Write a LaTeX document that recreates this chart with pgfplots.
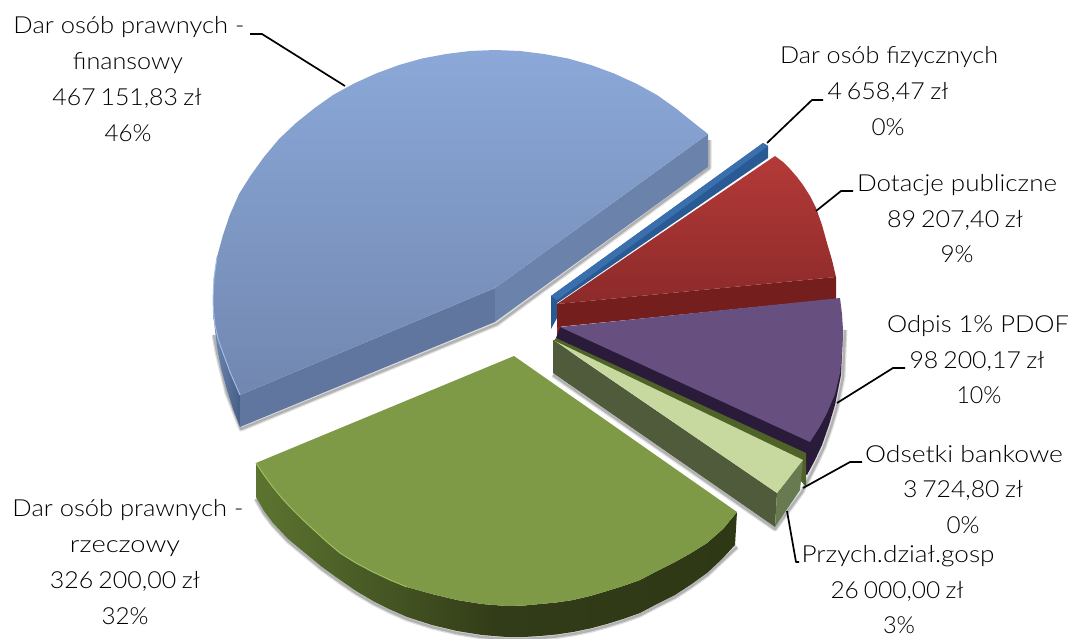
\documentclass[border=0pt]{standalone}
\usepackage{pgfplots}
\pgfplotsset{compat=1.18}
\usepackage{graphicx}
\usepackage{fontspec}
\setmainfont{Lato Light}
\definecolor{txt}{HTML}{000000}
\definecolor{bO1}{RGB}{110,135,178}
\definecolor{bO2}{RGB}{70,95,135}
\definecolor{bC1}{RGB}{96,118,158}
\definecolor{bC2}{RGB}{107,131,171}
\definecolor{bT1}{RGB}{139,168,216}
\definecolor{bT2}{RGB}{113,135,176}
\definecolor{bR}{RGB}{160,188,232}
\definecolor{dB1}{RGB}{42,90,148}
\definecolor{dB2}{RGB}{58,111,174}
\definecolor{rS}{RGB}{116,30,30}
\definecolor{rX}{RGB}{160,35,40}
\definecolor{rT1}{RGB}{180,58,56}
\definecolor{rT2}{RGB}{140,42,42}
\definecolor{pD}{RGB}{42,27,58}
\definecolor{pT}{RGB}{103,79,128}
\definecolor{oL}{RGB}{79,98,40}
\definecolor{lS}{RGB}{79,91,58}
\definecolor{lE}{RGB}{103,122,80}
\definecolor{lT}{RGB}{200,217,160}
\definecolor{gS1}{RGB}{92,116,48}
\definecolor{gS2}{RGB}{46,56,20}
\definecolor{gSm}{RGB}{50,60,24}
\definecolor{gT}{RGB}{126,154,70}
\definecolor{gR}{RGB}{158,190,96}
\newcommand{\lab}[4]{\node[anchor=base,inner sep=0pt,text=txt,font=\fontsize{23.5}{26}\selectfont] at (axis cs:#1,#2) {\resizebox{#3pt}{\height}{#4}};}
\newcommand{\ts}{\hspace{.2em}}
\newcommand{\zs}{\hspace{.22em}}
\pgfplotsset{face/.style={draw=none,no markers,line join=round},
 lead/.style={draw=black,line width=1.7pt,no markers,line join=round},
 shad/.style={draw=black,opacity=0.13,line width=5pt,no markers,line join=round},
 shae/.style={draw=black,opacity=0.2,line width=2.5pt,no markers,line join=round},
 rim/.style={no markers,line width=1pt,line join=round}}
\begin{document}
\begin{tikzpicture}
\path[use as bounding box] (0,0) rectangle (1073pt,638pt);
\begin{axis}[at={(0,0)},anchor=south west,scale only axis,width=1073pt,height=638pt,xmin=0,xmax=1073,ymin=0,ymax=638,y dir=reverse,
  axis lines=none,clip=false]
% shadows
\addplot[shad] coordinates {(214,335)(217,352)(227,393)(241,429)(497,324)(709,168)(709,140)};
\addplot[shae] coordinates {(214,335)(217,352)(227,393)(241,429)(497,324)(709,168)(709,140)};
\addplot[shad] coordinates {(256,499)(264,513)(273,525)(288,541)(305,555)(322,569)(340,582)(356,593)(373,603)(390,611.5)(407,619)(432,627)(457,633)(482,637)(507,639)(524,639)(540,638)(556,636.5)(573,634)(590,630.5)(607,626)(623,621)(640,615)(657,606)(675,597)(691,586.5)(707,575)(722,561)(737,547)};
\addplot[shae] coordinates {(256,499)(264,513)(273,525)(288,541)(305,555)(322,569)(340,582)(356,593)(373,603)(390,611.5)(407,619)(432,627)(457,633)(482,637)(507,639)(524,639)(540,638)(556,636.5)(573,634)(590,630.5)(607,626)(623,621)(640,615)(657,606)(675,597)(691,586.5)(707,575)(722,561)(737,547)};
\addplot[shad] coordinates {(553,375)(775,529)(802,492)(809,478)(817,462)(824,447)(831,427)(837,407)(843,377)(844,352)(845,330)};
\addplot[shae] coordinates {(553,375)(775,529)(802,492)(809,478)(817,462)(824,447)(831,427)(837,407)(843,377)(844,352)(845,330)};
% blue big slice
\addplot[face,left color=bO1,right color=bO2] coordinates {(213,313)(215,330)(217,347)(221,368)(227,390)(233,409)(240,427)(240,395)(230,372)(223,353)(218,339)(215,325)(213,313)};
\addplot[face,fill=bC1] coordinates {(495,288)(240,395)(240,427)(495,322)(495,288)};
\addplot[face,fill=bC2] coordinates {(495,288)(708,134)(708,167)(495,322)(495,288)};
\addplot[face,top color=bT1,bottom color=bT2] coordinates {
 (495,288)(708,134)(694,123)(676,108.5)(657,95)(636,83.5)(614,73.5)(591,65)(568,58.5)(544,54)(520,51)(495,50)(470,51)(446,54)(422,58.5)(399,65)(376,73.5)(354,83.5)(333,95)(314,108.5)(296,123)(279,139)(264,157)(251,175)(239,194)(230,214.5)(223,235)(217,257)(214,278)(213,300)(213.5,312)(215,325)(218,339)(223,353)(230,372)(240,395)(495,288)};
\addplot[rim,draw=bR] coordinates {(217,257)(214,278)(213,300)(213.5,312)(215,325)(218,339)(223,353)(230,372)(240,395)};
% small dark blue slice
\addplot[face,fill=dB1] coordinates {(551,296)(763,143)(768,146)(768,158)(557,303)(557,318)(551,329)(551,296)};
\addplot[face,fill=dB2] coordinates {(551,296)(763,143)(768,146)(557,300)(551,296)};
% red slice
\addplot[face,fill=rX] coordinates {(557,325)(561,325)(561,340)(557,340)(557,325)};
\addplot[face,fill=rS] coordinates {(557,304)(836,277)(836,299)(557,327)(557,304)};
\addplot[face,top color=rT1,bottom color=rT2] coordinates {
 (557,304)(775,156)(783,162)(790,169)(797,177)(803,185)(810,196)(816,208)(822,225)(827,243)(832,260)(836,277)(557,304)};
% purple slice
\addplot[face,fill=pD] coordinates {(560,327)(843,330)(842,352)(841,375)(835,405)(829,425)(822,445)(815,460)(807,475)(556,338)(560,327)};
\addplot[face,fill=pT] coordinates {(560,327)(840,298)(842,314)(843,330)(842,352)(840,373)(835,394)(827,413)(819,428)(810,442)(560,327)};
% thin olive slice
\addplot[face,fill=oL] coordinates {(556,338)(806,453)(806,487)(800,480)(553,342)(556,338)};
% light green slice
\addplot[face,fill=lS] coordinates {(553,340)(777,493)(775,527)(553,373)(553,340)};
\addplot[face,fill=lE] coordinates {(803,460)(777,493)(775,527)(800,490)(803,460)};
\addplot[face,fill=lT] coordinates {(555,341)(803,460)(777,493)(555,341)};
% big green slice
\addplot[face,left color=gS1,right color=gS2,middle color=gSm] coordinates {
 (256,463)(256,497)(264,511)(273,523)(288,539)(305,553)(322,567)(340,580)(356,591)(373,601)(390,609.5)(407,617)(432,625)(457,631)(482,635)(507,637)(524,637)(540,636)(556,634.5)(573,632)(590,628.5)(607,624)(623,619)(640,613)(657,604)(675,595)(691,584.5)(707,573)(722,559)(735,545)(737,512)(723,529)(707,543)(691,553)(675,562)(657,571)(640,580)(623,586)(607,591)(590,596)(573,600)(556,602.5)(540,604)(524,605.5)(507,606)(482,604)(457,600)(432,594)(407,587)(390,580)(373,572)(356,563)(340,553)(327,542)(315,531)(302,519)(290,507)(281,497)(272,486)(264,475)(256,463)};
\addplot[face,fill=gT] coordinates {
 (514,356)(737,512)(723,529)(707,543)(691,553)(675,562)(657,571)(640,580)(623,586)(607,591)(590,596)(573,600)(556,602.5)(540,604)(524,605.5)(507,606)(482,604)(457,600)(432,594)(407,587)(390,580)(373,572)(356,563)(340,553)(327,542)(315,531)(302,519)(290,507)(281,497)(272,486)(264,475)(256,463)(514,356)};
\addplot[rim,draw=gR] coordinates {(256,463)(264,475)(272,486)(281,497)(290,507)(302,519)(315,531)(327,542)(340,553)(356,563)(373,572)(390,580)(407,587)};
% leaders
\addplot[lead] coordinates {(250,34)(262,34)(345,86)};
\addplot[lead] coordinates {(767,143)(812,100)(823,100)};
\addplot[lead] coordinates {(816,211)(841,191)(853,191)};
\addplot[lead] coordinates {(837,403)(893,368)(905,368)};
\addplot[lead] coordinates {(803,488)(850,462)(862,462)};
\addplot[lead] coordinates {(787,511)(796,562)(799,562)};
% labels
\lab{129}{33.5}{231}{Dar osób prawnych -}
\lab{128}{69}{110}{finansowy}
\lab{127}{105}{149}{467\ts 151,83\zs zł}
\lab{128}{141}{47}{46\%}
\lab{889}{63}{218}{Dar osób fizycznych}
\lab{888}{99}{121}{4\ts 658,47\zs zł}
\lab{888}{135}{33}{0\%}
\lab{957}{191}{200}{Dotacje publiczne}
\lab{955}{227}{136}{89\ts 207,40\zs zł}
\lab{957}{262}{33}{9\%}
\lab{978}{332}{182}{Odpis 1\% PDOF}
\lab{977}{368}{135}{98\ts 200,17\zs zł}
\lab{979}{403}{45}{10\%}
\lab{964}{462}{198}{Odsetki bankowe}
\lab{963}{497}{120}{3\ts 724,80\zs zł}
\lab{963}{533}{33}{0\%}
\lab{898}{562}{193}{Przych.dział.gosp}
\lab{897}{598}{133}{26\ts 000,00\zs zł}
\lab{899}{633}{32}{3\%}
\lab{128}{516}{231}{Dar osób prawnych -}
\lab{125}{552}{110}{rzeczowy}
\lab{125}{588}{150}{326\ts 200,00\zs zł}
\lab{125}{624}{47}{32\%}
\end{axis}
\end{tikzpicture}
\end{document}
